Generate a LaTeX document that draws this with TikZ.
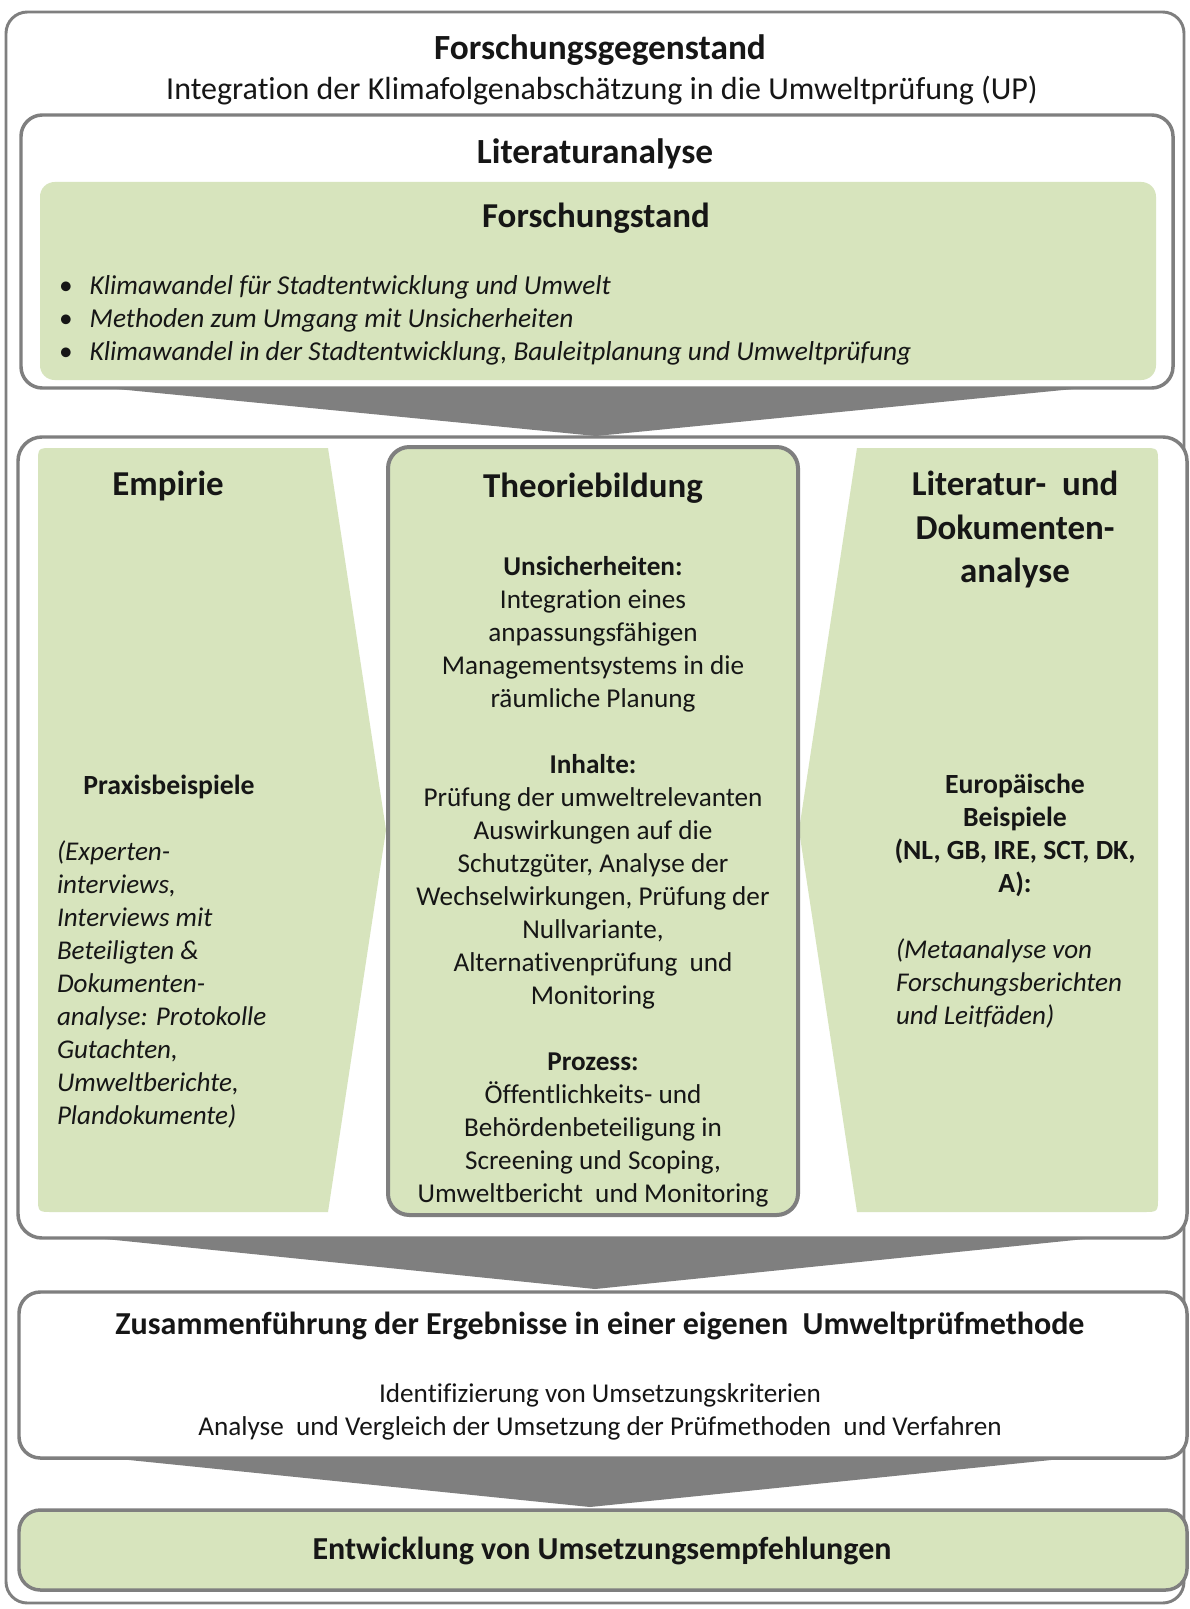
\documentclass[tikz,border=0pt]{standalone}
\usepackage{fontspec}
\setmainfont{Carlito}[Ligatures={NoCommon}]
\definecolor{frame}{HTML}{7F7F7F}
\definecolor{leaf}{HTML}{D7E4BD}
\definecolor{ink}{HTML}{161616}
\begin{document}
\begin{tikzpicture}[x=0.75pt,y=-0.75pt]
\tikzset{
  every node/.style={inner sep=0pt, outer sep=0pt, text=ink},
  panel/.style={draw=frame, line width=2.6pt, fill=white, rounded corners=16pt},
  leafbox/.style={fill=leaf, draw=none, rounded corners=11pt},
  wedge/.style={fill=frame, draw=none},
  ttl/.style={font=\fontsize{26.5pt}{30pt}\selectfont\bfseries},
  sub/.style={font=\fontsize{24pt}{28pt}\selectfont},
  bighead/.style={font=\fontsize{26.2pt}{32.6pt}\selectfont\bfseries, align=center},
  body/.style={font=\fontsize{20.4pt}{24.75pt}\selectfont, align=center},
  note/.style={font=\fontsize{20.3pt}{24.75pt}\selectfont\itshape, align=left},
  small head/.style={font=\fontsize{20.8pt}{24.75pt}\selectfont\bfseries, align=center},
}
\useasboundingbox (0,0) rectangle (1189,1609);
\fill[white] (0,0) rectangle (1189,1609);

% outer frame
\node[panel, line width=2.2pt, minimum width=883.5pt, minimum height=1193.25pt] (outer) at (595,807.5) {};

% wedges between the stages
\coordinate (w1l) at (76,385);  \coordinate (w1r) at (1114,385);  \coordinate (w1t) at (596,436);
\coordinate (w2l) at (76,1236); \coordinate (w2r) at (1114,1236); \coordinate (w2t) at (595,1289);
\coordinate (w3l) at (80,1455); \coordinate (w3r) at (1100,1455); \coordinate (w3t) at (590,1507);
\fill[wedge] (w1l) -- (w1r) -- (w1t) -- cycle;
\fill[wedge] (w2l) -- (w2r) -- (w2t) -- cycle;
\fill[wedge] (w3l) -- (w3r) -- (w3t) -- cycle;

% literature stage
\node[panel, minimum width=864pt, minimum height=204.75pt] (lit) at (597,251.5) {};
\node[leafbox, minimum width=837pt, minimum height=148.5pt] (state) at (598,281) {};

% research stage
\node[panel, minimum width=876.75pt, minimum height=600.75pt, rounded corners=18pt] (mid) at (602.5,837.5) {};
\fill[leaf] (328,448) -- (386,830) -- (328,1212) -- (53,1212) .. controls (38,1212) .. (38,1197)
  -- (38,463) .. controls (38,448) .. (53,448) -- cycle;
\fill[leaf] (857,448) -- (1143,448) .. controls (1158,448) .. (1158,463) -- (1158,1197)
  .. controls (1158,1212) .. (1143,1212) -- (857,1212) -- (799,830) -- cycle;
\node[panel, fill=leaf, line width=3pt, minimum width=307.5pt, minimum height=576pt] (theo) at (593,831) {};

% synthesis and result
\node[panel, minimum width=876pt, minimum height=124.5pt] (zus) at (603,1375) {};
\node[panel, fill=leaf, minimum width=876pt, minimum height=60pt] (entw) at (603,1550) {};

% texts
\node[ttl] (t1) at (600,50) {Forschungsgegenstand};
\node[sub] (t2) at (602,91) {Integration der Klimafolgenabschätzung in die Umweltprüfung (UP)};
\node[ttl] (t3) at (595,154) {Literaturanalyse};
\node[bighead] (t4) at (596,218) {Forschungstand};
\node[note, font=\fontsize{20.5pt}{24.75pt}\selectfont\itshape, anchor=west] (t5) at (59,320) {%
  \makebox[23pt][l]{\upshape •}Klimawandel für Stadtentwicklung und Umwelt\\
  \makebox[23pt][l]{\upshape •}Methoden zum Umgang mit Unsicherheiten\\
  \makebox[23pt][l]{\upshape •}Klimawandel in der Stadtentwicklung, Bauleitplanung und Umweltprüfung};

\node[bighead] (e1) at (168,486) {Empirie};
\node[small head] (e2) at (169,787) {Praxisbeispiele};
\node[note, anchor=west] (e3) at (57,984) {(Experten-\\interviews,\\Interviews mit\\Beteiligten \&\\Dokumenten-\\analyse: Protokolle\\Gutachten,\\Umweltberichte,\\Plandokumente)};

\node[bighead] (c1) at (593,488) {Theoriebildung};
\node[body] (c2) at (593,881.5) {\textbf{Unsicherheiten:}\\ Integration eines\\ anpassungsfähigen\\ Managementsystems in die\\ räumliche Planung\\[24.75pt]
  \textbf{Inhalte:}\\ Prüfung der umweltrelevanten\\ Auswirkungen auf die\\ Schutzgüter, Analyse der\\ Wechselwirkungen, Prüfung der\\ Nullvariante,\\ Alternativenprüfung\ \ und\\ Monitoring\\[24.75pt]
  \textbf{Prozess:}\\ Öffentlichkeits- und\\ Behördenbeteiligung in\\ Screening und Scoping,\\ Umweltbericht\ \ und Monitoring};

\node[bighead] (r1) at (1015,529.5) {Literatur-\ \ und\\Dokumenten-\\analyse};
\node[small head] (r2) at (1015,835) {Europäische\\Beispiele\\(NL, GB, IRE, SCT, DK,\\A):};
\node[note, anchor=west] (r3) at (896,983.5) {(Metaanalyse von\\Forschungsberichten\\und Leitfäden)};

\node[ttl, font=\fontsize{24pt}{28pt}\selectfont\bfseries] (z1) at (600,1326) {Zusammenführung der Ergebnisse in einer eigenen\ \ Umweltprüfmethode};
\node[body, font=\fontsize{20.4pt}{24.75pt}\selectfont] (z2) at (600,1411.5) {Identifizierung von Umsetzungskriterien\\Analyse\ \ und Vergleich der Umsetzung der Prüfmethoden\ \ und Verfahren};
\node[ttl, font=\fontsize{24pt}{28pt}\selectfont\bfseries] (n1) at (602,1551) {Entwicklung von Umsetzungsempfehlungen};
\end{tikzpicture}
\end{document}
